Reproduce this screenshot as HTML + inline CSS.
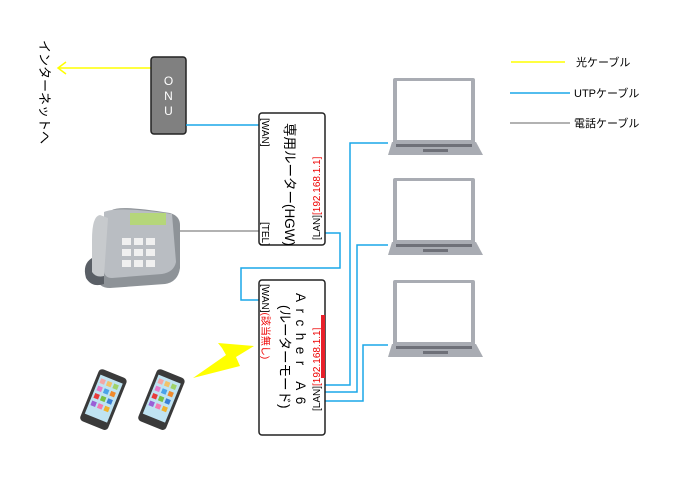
<!DOCTYPE html>
<html><head><meta charset="utf-8"><style>
body{margin:0;background:#fff;}
svg text{font-family:"Liberation Sans","Noto Sans CJK JP",sans-serif;}
</style></head><body>
<svg width="680" height="480" viewBox="0 0 680 480" xmlns="http://www.w3.org/2000/svg">
<defs>
<g id="laptop">
<rect x="5" y="0" width="82" height="66" rx="2" fill="#a9acb3"/>
<rect x="9" y="3" width="74" height="59" fill="#fff"/>
<path d="M4 64 L88 64 L95 77 L0 77 Z" fill="#a9acb3"/>
<rect x="8" y="66" width="76" height="3" fill="#6e7078"/>
<rect x="35" y="71" width="25" height="3" fill="#6e7078"/>
</g>
<g id="sp">
<rect x="0" y="0" width="30" height="56" rx="4" fill="#3a3a3a"/>
<rect x="3" y="6" width="24" height="42" fill="#bfe3f2"/>
<rect x="5" y="9" width="5" height="5" fill="#f4a6a6"/><rect x="12" y="9" width="5" height="5" fill="#f1c26a"/><rect x="19" y="9" width="5" height="5" fill="#9fd36a"/>
<rect x="5" y="17" width="5" height="5" fill="#e879c8"/><rect x="12" y="17" width="5" height="5" fill="#4aa3e8"/><rect x="19" y="17" width="5" height="5" fill="#f08a2c"/>
<rect x="5" y="25" width="5" height="5" fill="#e83a3a"/><rect x="12" y="25" width="5" height="5" fill="#7ac142"/><rect x="19" y="25" width="5" height="5" fill="#3a7fd6"/>
<rect x="5" y="33" width="5" height="5" fill="#9a5fd6"/><rect x="12" y="33" width="5" height="5" fill="#f47ab0"/><rect x="19" y="33" width="5" height="5" fill="#f0b02c"/>
</g>
</defs>

<text transform="translate(40,40) rotate(90)" font-size="13" fill="#000">インターネットへ</text>
<line x1="58" y1="68" x2="151" y2="68" stroke="#ffff00" stroke-width="1.5"/>
<polyline points="66,62 58,68 66,74" fill="none" stroke="#ffff00" stroke-width="1.5"/>

<rect x="151" y="57" width="35" height="77" rx="3" fill="#808080" stroke="#222" stroke-width="1.5"/>
<text x="168.5" y="85" font-size="12" fill="#fff" text-anchor="middle">O</text>
<text x="168.5" y="100" font-size="12" fill="#fff" text-anchor="middle">N</text>
<text x="168.5" y="115" font-size="12" fill="#fff" text-anchor="middle">U</text>

<polyline points="186,125 259,125" fill="none" stroke="#1aa7e8" stroke-width="1.5"/>
<polyline points="180,231 259,231" fill="none" stroke="#999" stroke-width="1.5"/>
<polyline points="325,233 340,233 340,268 241,268 241,300 259,300" fill="none" stroke="#1aa7e8" stroke-width="1.5"/>
<polyline points="325,385 350,385 350,143 388,143" fill="none" stroke="#1aa7e8" stroke-width="1.5"/>
<polyline points="325,392 357,392 357,245 388,245" fill="none" stroke="#1aa7e8" stroke-width="1.5"/>
<polyline points="325,401 363,401 363,345 388,345" fill="none" stroke="#1aa7e8" stroke-width="1.5"/>

<rect x="259" y="113" width="66" height="132" rx="3" fill="#fff" stroke="#222" stroke-width="1.5"/>
<text transform="translate(262,118) rotate(90)" font-size="10">[WAN]</text>
<text transform="translate(262,222) rotate(90)" font-size="10">[TEL]</text>
<text transform="translate(285,123) rotate(90)" font-size="13.5">専用ルーター(HGW)</text>
<text transform="translate(320,240) rotate(-90)" font-size="10">[LAN]<tspan fill="#e00">[192.168.1.1]</tspan></text>

<rect x="259" y="280" width="66" height="155" rx="3" fill="#fff" stroke="#222" stroke-width="1.5"/>
<text transform="translate(262,284) rotate(90)" font-size="10">[WAN]<tspan fill="#e00">(該当無し)</tspan></text>
<text transform="translate(296,293) rotate(90)" font-size="13.5" letter-spacing="6.5">Archer A6</text>
<text transform="translate(280,305) rotate(90)" font-size="13.5">(ルーターモード)</text>
<text transform="translate(320,411) rotate(-90)" font-size="10">[LAN]<tspan fill="#e00">[192.168.1.1]</tspan></text>
<rect x="321" y="315" width="4" height="63" fill="#e8202a"/>

<use href="#laptop" x="388" y="78"/>
<use href="#laptop" x="388" y="178"/>
<use href="#laptop" x="388" y="280"/>

<line x1="511" y1="62" x2="565" y2="62" stroke="#ffff00" stroke-width="1.5"/>
<text x="576" y="66" font-size="11">光ケーブル</text>
<line x1="510" y1="93" x2="570" y2="93" stroke="#1aa7e8" stroke-width="1.5"/>
<text x="574" y="97" font-size="11">UTPケーブル</text>
<line x1="510" y1="123" x2="570" y2="123" stroke="#999" stroke-width="1.5"/>
<text x="574" y="127" font-size="11">電話ケーブル</text>

<path d="M112 210 Q120 205 170 213 Q180 216 180 225 L180 268 Q178 282 165 284 L110 288 Q98 288 98 278 Z" fill="#8e9398"/>
<path d="M104 212 Q118 206 172 214 L176 262 Q174 272 162 274 L112 278 Q104 278 104 270 Z" fill="#b9bdc2"/>
<rect x="130" y="213" width="36" height="12" fill="#b5d67a"/>
<path d="M92 258 Q82 264 86 278 Q92 288 104 284 L104 258 Z" fill="#5a5f66"/>
<path d="M100 215 Q92 216 92 240 L92 272 Q96 278 104 276 L108 218 Z" fill="#c7cacd"/>
<g fill="#f0f0f0"><rect x="122" y="238" width="9" height="7"/><rect x="134" y="238" width="9" height="7"/><rect x="146" y="238" width="9" height="7"/><rect x="122" y="249" width="9" height="7"/><rect x="134" y="249" width="9" height="7"/><rect x="146" y="249" width="9" height="7"/><rect x="122" y="260" width="9" height="7"/><rect x="134" y="260" width="9" height="7"/><rect x="146" y="260" width="9" height="7"/></g>

<use href="#sp" transform="translate(100,368) rotate(22)"/>
<use href="#sp" transform="translate(158,368) rotate(22)"/>

<path d="M218,343 L254,346 L236,357 L240,366 L193,378 L226,355 L222,348 Z" fill="#ffff00"/>
</svg>
</body></html>
